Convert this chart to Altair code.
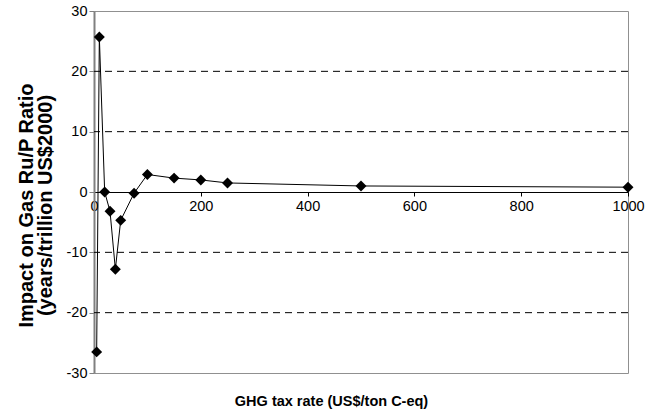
import altair as alt
import pandas as pd

tax_rate = [5, 10, 20, 30, 40, 50, 75, 100, 150, 200, 250, 500, 1000]
impact = [-26.5, 25.7, 0.0, -3.2, -12.8, -4.7, -0.2, 2.9, 2.3, 2.0, 1.5, 1.0, 0.8]
grid_values = [-20, -10, 10, 20]
x_ticks = [0, 200, 400, 600, 800, 1000]
y_ticks = [-30, -20, -10, 0, 10, 20, 30]

df = pd.DataFrame({"x": tax_rate, "y": impact})
grid_df = pd.DataFrame({"g": grid_values})

FONT = "Liberation Sans"
W, H = 534, 362
LABEL_EXPR = "datum.value < 0 ? '-' + abs(datum.value) : '' + datum.value"

xscale = alt.Scale(domain=[0, 1000], nice=False, zero=False)
yscale = alt.Scale(domain=[-30, 30], nice=False)

grid = alt.Chart(grid_df).mark_rule(color="black", strokeDash=[7, 5], strokeWidth=1).encode(
    y=alt.Y("g:Q", scale=yscale)
)

line = alt.Chart(df).mark_line(color="black", strokeWidth=1).encode(
    x=alt.X("x:Q", scale=xscale,
            axis=alt.Axis(values=x_ticks, offset=-H / 2, grid=False, domainColor="black",
                          domainWidth=1, tickColor="black", tickSize=4, labelFont=FONT,
                          labelFontSize=14.5, labelColor="black", labelPadding=3,
                          labelFlush=False, labelOverlap=False, labelExpr=LABEL_EXPR,
                          title="GHG tax rate (US$/ton C-eq)", titleFont=FONT,
                          titleFontSize=14.5, titleFontWeight="bold", titleColor="black",
                          titleX=237, titleY=209, titleAlign="center",
                          titleBaseline="middle")),
    y=alt.Y("y:Q", scale=yscale,
            axis=alt.Axis(values=y_ticks, grid=False, domainColor="#808080", domainWidth=2,
                          tickColor="#808080", tickSize=5, labelFont=FONT, labelFontSize=14.5,
                          labelColor="black", labelPadding=2, labelFlush=False,
                          labelExpr=LABEL_EXPR,
                          title=["Impact on Gas Ru/P Ratio", "(years/trillion US$2000)"],
                          titleFont=FONT, titleFontSize=20, titleFontWeight="bold",
                          titleColor="black", titlePadding=11, titleLineHeight=19,
                          titleY=194)),
)

points = alt.Chart(df).mark_point(shape="diamond", filled=True, color="black", size=120, opacity=1).encode(
    x=alt.X("x:Q", scale=xscale),
    y=alt.Y("y:Q", scale=yscale),
)

chart = alt.layer(grid, line, points).properties(
    width=W, height=H,
    autosize=alt.AutoSizeParams(type="none"),
    padding={"left": 94, "top": 11, "right": 18, "bottom": 39},
    background="white",
).configure_view(stroke="#909090", strokeWidth=1)

chart.save("out.html", embed_options={"renderer": "svg", "actions": False})
